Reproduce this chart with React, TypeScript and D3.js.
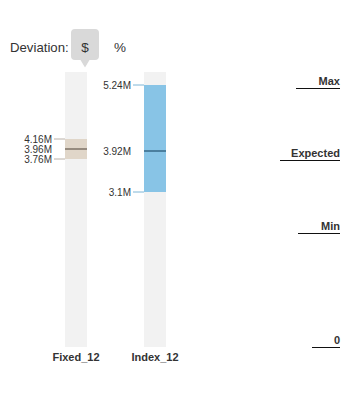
import React, { useEffect } from "react";
import * as d3 from "d3";

const categories = ["Fixed_12", "Index_12"];
const minValues = [3.76e6, 3.1e6];
const expectedValues = [3.96e6, 3.92e6];
const maxValues = [4.16e6, 5.24e6];
const minLabels = ["3.76M", "3.1M"];
const expectedLabels = ["3.96M", "3.92M"];
const maxLabels = ["4.16M", "5.24M"];
const levelNames = ["Max", "Expected", "Min", "0"];
const levelValues = [5.18e6, 3.74e6, 2.28e6, 0];
const toggleOptions = ["$", "%"];

const bandFill = ["#e0d6c9", "#88c4e6"];
const midLine = ["#968b7f", "#4b7f9f"];
const tickLine = ["#b8b0a8", "#7fb6d6"];
const underlineWidth = [44, 60, 42, 28];

export default function App() {
  useEffect(() => {
    document.body.style.margin = "0";
  }, []);
  const W = 361, H = 415;
  const y = d3.scaleLinear().domain([0, 5.5e6]).range([347, 72]);
  const bw = 22;
  const font = "'Liberation Sans', Arial, Helvetica, sans-serif";
  return (
    <svg width={W} height={H} style={{ display: "block", fontFamily: font }}>
      <text x={10} y={52} fontSize={13.2} fill="#333">Deviation:</text>
      <path d="M75,29 H95 Q99,29 99,33 V56 Q99,60 95,60 H89.5 L85,67.5 L80.5,60 H75 Q71,60 71,56 V33 Q71,29 75,29 Z" fill="#d9d9d9" />
      {toggleOptions.map((t, i) => (
        <text key={t} x={85 + i * 35} y={52} fontSize={13.5} fill="#333" textAnchor="middle">{t}</text>
      ))}
      {categories.map((c, i) => {
        const x0 = 65 + i * 79;
        const lx = x0 - 13;
        return (
          <g key={c}>
            <rect x={x0} y={y(5.5e6)} width={bw} height={y(0) - y(5.5e6)} fill="#f2f2f2" />
            <rect x={x0} y={y(maxValues[i])} width={bw} height={y(minValues[i]) - y(maxValues[i])} fill={bandFill[i]} />
            <line x1={x0} x2={x0 + bw} y1={y(expectedValues[i])} y2={y(expectedValues[i])} stroke={midLine[i]} strokeWidth={2} />
            <line x1={x0 - 11} x2={x0} y1={y(maxValues[i])} y2={y(maxValues[i])} stroke={tickLine[i]} />
            <line x1={x0 - 11} x2={x0} y1={y(minValues[i])} y2={y(minValues[i])} stroke={tickLine[i]} />
            <text x={lx} y={y(maxValues[i]) + 3.5} fontSize={10} fill="#333" textAnchor="end">{maxLabels[i]}</text>
            <text x={lx} y={y(expectedValues[i]) + 3.5} fontSize={10} fill="#333" textAnchor="end">{expectedLabels[i]}</text>
            <text x={lx} y={y(minValues[i]) + 3.5} fontSize={10} fill="#333" textAnchor="end">{minLabels[i]}</text>
            <text x={x0 + bw / 2} y={361} fontSize={11} fontWeight="bold" fill="#333" textAnchor="middle">{c}</text>
          </g>
        );
      })}
      {levelNames.map((n, i) => (
        <g key={n}>
          <text x={340} y={y(levelValues[i]) - 3} fontSize={11} fontWeight="bold" fill="#333" textAnchor="end">{n}</text>
          <line x1={340 - underlineWidth[i]} x2={340} y1={y(levelValues[i]) + 0.5} y2={y(levelValues[i]) + 0.5} stroke="#111" strokeWidth={1} />
        </g>
      ))}
    </svg>
  );
}
